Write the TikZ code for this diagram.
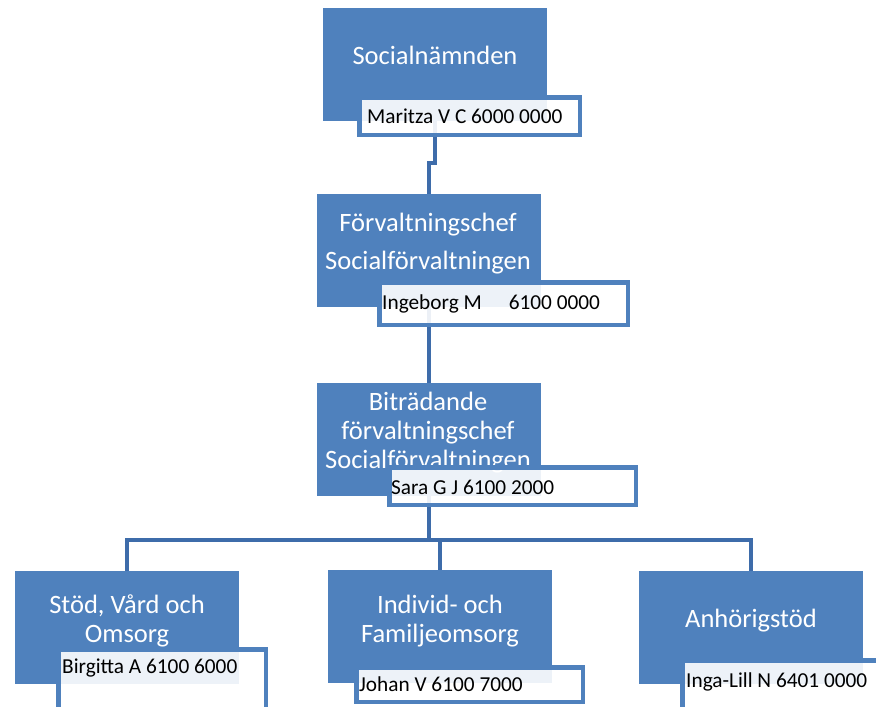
\documentclass[tikz,border=0pt]{standalone}
\usepackage{fontspec}
\setmainfont{Carlito}
\usetikzlibrary{positioning,calc}
\definecolor{boxblue}{RGB}{79,129,189}
\definecolor{lineblue}{RGB}{62,108,170}
\tikzset{
  unitbox/.style={fill=boxblue,minimum width=224pt,minimum height=113pt,anchor=north west,inner sep=0pt,outer sep=0pt},
  unittext/.style={text=white,align=center,font=\fontsize{26.5}{29}\selectfont,anchor=base,inner sep=0pt},
  namebox/.style={draw=boxblue,line width=4.5pt,fill=white,fill opacity=0.9,anchor=north west,inner sep=0pt,outer sep=0pt},
  nametext/.style={font=\fontsize{21.3}{25}\selectfont,anchor=base west,inner sep=0pt},
  link/.style={draw=lineblue,line width=4.5pt},
}
\begin{document}
\begin{tikzpicture}[x=1pt,y=-1pt]
\useasboundingbox (0,0) rectangle (876,707);

\node[unitbox] (b1) at (323,8) {};
\node[unitbox] (b2) at (317,194) {};
\node[unitbox] (b3) at (317,383) {};
\node[unitbox] (b4) at (15,571) {};
\node[unitbox] (b5) at (328,570) {};
\node[unitbox] (b6) at (639,571) {};

\node[unittext] (t1) at (435,64) {Socialnämnden};
\node[unittext] (t2) at (428,269) {Förvaltningschef\\[9pt]Socialförvaltningen};
\node[unittext] (t3) at (428,468) {Biträdande\\förvaltningschef\\Socialförvaltningen};
\node[unittext] (t4) at (127,642) {Stöd, Vård och\\Omsorg};
\node[unittext] (t5) at (440,642) {Individ- och\\Familjeomsorg};
\node[unittext] (t6) at (751,627) {Anhörigstöd};

\coordinate (j1) at (0,163);
\coordinate (bar) at (0,540);
\draw[link] (b1.south) -- (b1.south |- j1) -| (b2.north);
\draw[link] (b2.south) -- (b3.north);
\draw[link] (b3.south) -- (b3.south |- bar);
\draw[link] (b4.north) -- (b4.north |- bar) -- (b6.north |- bar) -- (b6.north);
\draw[link] (b5.north |- bar) -- (b5.north);

\node[namebox,minimum width=220.5pt,minimum height=37.5pt] (l1) at (359.25,97.25) {};
\node[namebox,minimum width=248.5pt,minimum height=42.5pt] (l2) at (379.25,282.25) {};
\node[namebox,minimum width=246.5pt,minimum height=37.5pt] (l3) at (389.25,467.25) {};
\node[namebox,minimum width=207.5pt,minimum height=70pt] (l4) at (58.25,649.25) {};
\node[namebox,minimum width=226.5pt,minimum height=34.5pt] (l5) at (356.25,667.25) {};
\node[namebox,minimum width=210pt,minimum height=60pt] (l6) at (682.25,660.25) {};

\node[nametext] (n1) at (367,123) {Maritza V C 6000 0000};
\node[nametext] (n2) at (382,309) {Ingeborg M\hspace{27pt}6100 0000};
\node[nametext] (n3) at (391,494) {Sara G J 6100 2000};
\node[nametext] (n4) at (62,673) {Birgitta A 6100 6000};
\node[nametext] (n5) at (359,691) {Johan V 6100 7000};
\node[nametext] (n6) at (686,687) {Inga-Lill N 6401 0000};

\end{tikzpicture}
\end{document}
